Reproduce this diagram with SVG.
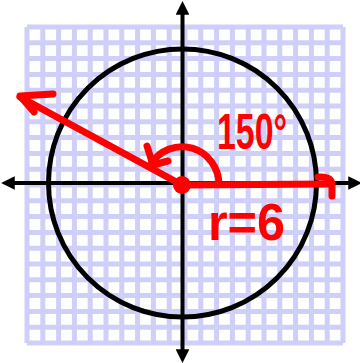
<svg xmlns="http://www.w3.org/2000/svg" width="360" height="363" viewBox="0 0 360 363">
<style>
.grid{stroke:#cfcff9;stroke-width:5;fill:none}
.axis{stroke:#000;stroke-width:4;fill:none}
.red{stroke:#ff0000;stroke-width:7;fill:none;stroke-linecap:round;stroke-linejoin:round}
.lbl{fill:#ff0000;font-family:"Liberation Sans",Arial,sans-serif;font-weight:bold}
</style>
<defs>
<marker id="ah" viewBox="0 0 10 10" refX="2" refY="5" markerWidth="3.4" markerHeight="3.4" orient="auto" markerUnits="strokeWidth">
<path d="M0,0 L10,5 L0,10 z" fill="#000"/>
</marker>
</defs>
<rect width="360" height="363" fill="#fff"/>
<g id="grid" class="grid">
<path d="M27,27V343M42.8,27V343M58.6,27V343M74.4,27V343M90.2,27V343M106,27V343M121.8,27V343M137.6,27V343M153.4,27V343M169.2,27V343M185,27V343M200.8,27V343M216.6,27V343M232.4,27V343M248.2,27V343M264,27V343M279.8,27V343M295.6,27V343M311.4,27V343M327.2,27V343M343,27V343"/>
<path d="M27,27H343M27,42.8H343M27,58.6H343M27,74.4H343M27,90.2H343M27,106H343M27,121.8H343M27,137.6H343M27,153.4H343M27,169.2H343M27,185H343M27,200.8H343M27,216.6H343M27,232.4H343M27,248.2H343M27,264H343M27,279.8H343M27,295.6H343M27,311.4H343M27,327.2H343M27,343H343"/>
</g>
<g id="axes" class="axis">
<line x1="182.5" y1="183" x2="182.5" y2="12" marker-end="url(#ah)"/>
<line x1="182.5" y1="183" x2="182.5" y2="352" marker-end="url(#ah)"/>
<line x1="182.5" y1="183" x2="12" y2="183" marker-end="url(#ah)"/>
<line x1="182.5" y1="183" x2="351" y2="183" marker-end="url(#ah)"/>
</g>
<g id="circle">
<circle cx="182.5" cy="183" r="134" fill="none" stroke="#000" stroke-width="5"/>
</g>
<g id="connectors" class="red">
<path d="M182,185 L20,97"/>
<path d="M53,94 L20,96 L34,112"/>
<path d="M182,185 L330,184"/>
<path d="M318,177 Q331,176 332,184 L332,196"/>
<path d="M219,184 A37,38 0 0 0 151,164"/>
<path d="M147,146 L153,165 L168,161"/>
</g>
<g id="center">
<circle cx="182" cy="185" r="9" fill="#ff0000"/>
</g>
<g id="angle-label">
<text class="lbl" x="217" y="149" font-size="50" textLength="70" lengthAdjust="spacingAndGlyphs">150°</text>
</g>
<g id="radius-label">
<text class="lbl" x="208" y="240" font-size="52" textLength="77" lengthAdjust="spacingAndGlyphs">r=6</text>
</g>
</svg>
